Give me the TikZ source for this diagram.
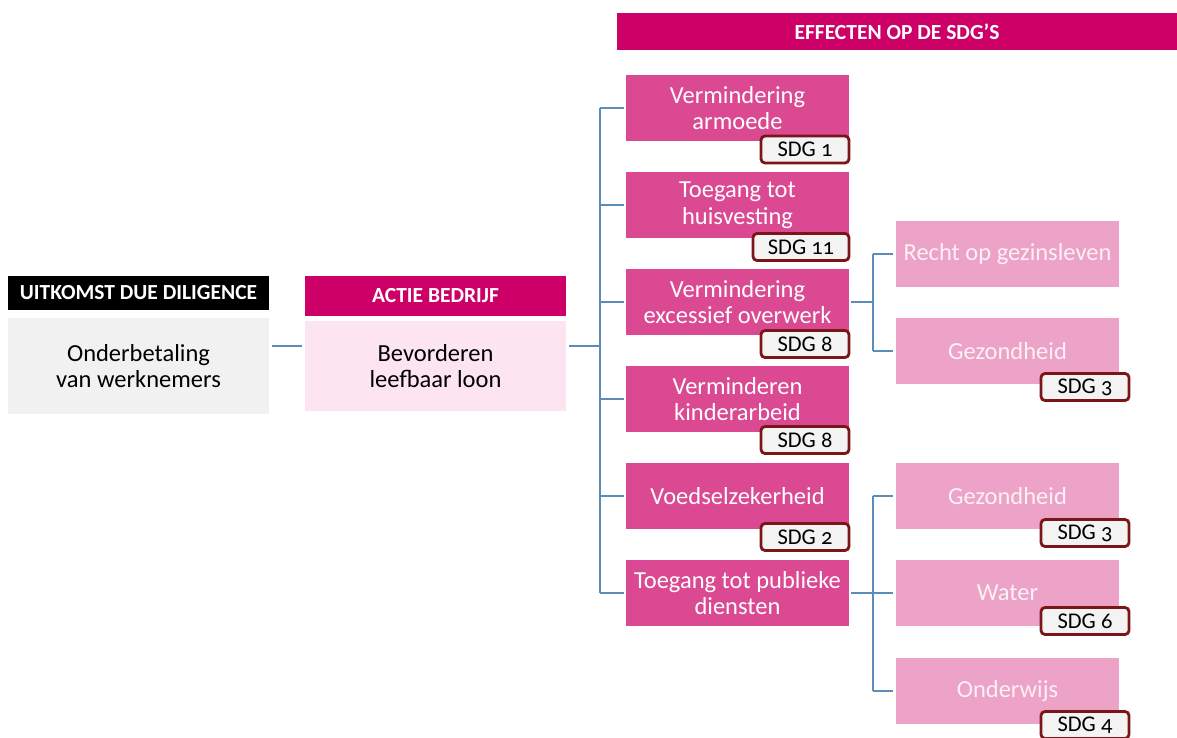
\documentclass[tikz,border=0pt]{standalone}
\usepackage{fontspec}
\setmainfont{Carlito}
\newfontfamily\badgefont[Numbers=OldStyle]{Carlito}
\definecolor{hdrmag}{HTML}{CC0066}
\definecolor{midpink}{HTML}{DA4991}
\definecolor{lightpink}{HTML}{ECA3C7}
\definecolor{palepink}{HTML}{FCE4F0}
\definecolor{greyfill}{HTML}{F1F1F1}
\definecolor{badgered}{HTML}{7A1618}
\definecolor{badgefill}{HTML}{F3F3F3}
\definecolor{linkblue}{HTML}{5B8DB8}
\definecolor{subtext}{HTML}{FDF0F6}
\begin{document}
\begin{tikzpicture}[x=1pt,y=-1pt,
  hdr/.style={rectangle, inner sep=0pt, text=white, font=\bfseries\fontsize{21.5}{24}\selectfont},
  box/.style={rectangle, inner sep=0pt, minimum width=223pt, minimum height=66pt, align=center, font=\fontsize{24.5}{26.5}\selectfont},
  midbox/.style={box, fill=midpink, text=white},
  subbox/.style={box, fill=lightpink, text=subtext},
  badge/.style={rectangle, rounded corners=4pt, draw=badgered, line width=2.8pt, fill=badgefill, minimum width=88pt, minimum height=27pt, inner sep=0pt, text=black, font=\badgefont\fontsize{22.5}{24}\selectfont},
  link/.style={draw=linkblue, line width=2.4pt}]
\useasboundingbox (0,0) rectangle (1177,738);

% left column
\node[hdr, fill=black, minimum width=261pt, minimum height=34pt] (h1) at (138.5,293) {UITKOMST DUE DILIGENCE};
\node[box, fill=greyfill, text=black, minimum width=261pt, minimum height=96pt] (grey) at (138.5,366) {Onderbetaling\\van werknemers};

% action column
\node[hdr, fill=hdrmag, minimum width=261pt, minimum height=40pt] (h2) at (435.5,296) {ACTIE BEDRIJF};
\node[box, fill=palepink, text=black, minimum width=261pt, minimum height=90pt] (pink) at (435.5,366) {Bevorderen\\leefbaar loon};

% effects header
\node[hdr, fill=hdrmag, minimum width=560pt, minimum height=37pt] (h3) at (897,31.5) {EFFECTEN OP DE SDG’S};

% middle boxes
\node[midbox] (m1) at (737.5,108) {Vermindering\\armoede};
\node[midbox] (m2) at (737.5,205) {Toegang tot\\huisvesting};
\node[midbox] (m3) at (737.5,302) {Vermindering\\excessief overwerk};
\node[midbox] (m4) at (737.5,399) {Verminderen\\kinderarbeid};
\node[midbox] (m5) at (737.5,496) {Voedselzekerheid};
\node[midbox] (m6) at (737.5,593) {Toegang tot publieke\\diensten};

% right boxes
\node[subbox] (r1) at (1007.5,254) {Recht op gezinsleven};
\node[subbox] (r2) at (1007.5,351) {Gezondheid};
\node[subbox] (r3) at (1007.5,496) {Gezondheid};
\node[subbox] (r4) at (1007.5,593) {Water};
\node[subbox] (r5) at (1007.5,691) {Onderwijs};

% badges
\node[badge] (b1) at (805,149.5) {SDG 1};
\node[badge, minimum width=96pt] (b2) at (801,247) {SDG 11};
\node[badge] (b3) at (805,344) {SDG 8};
\node[badge] (b4) at (805,440) {SDG 8};
\node[badge] (b5) at (805,537) {SDG 2};
\node[badge] (b6) at (1085,387) {SDG 3};
\node[badge] (b7) at (1085,533) {SDG 3};
\node[badge] (b8) at (1085,621) {SDG 6};
\node[badge] (b9) at (1085,725) {SDG 4};

% connectors
\coordinate (tr) at (600,0);
\coordinate (tr2) at (873,0);
\draw[link, shorten <=3pt, shorten >=3pt] ([yshift=20pt]grey.east) -- ([yshift=20pt]pink.west);
\draw[link, shorten <=3pt] ([yshift=20pt]pink.east) -- ([yshift=20pt]pink.east -| tr);
\draw[link] (m1.west -| tr) -- (m6.west -| tr);
\foreach \m in {m1,m2,m3,m4,m5,m6}
  \draw[link, shorten >=2pt] (\m.west -| tr) -- (\m.west);
\draw[link, shorten <=2pt] (m3.east) -- (m3.east -| tr2);
\draw[link] (r1.west -| tr2) -- (r2.west -| tr2);
\foreach \r in {r1,r2}
  \draw[link, shorten >=3pt] (\r.west -| tr2) -- (\r.west);
\draw[link, shorten <=2pt] (m6.east) -- (m6.east -| tr2);
\draw[link] (r3.west -| tr2) -- (r5.west -| tr2);
\foreach \r in {r3,r4,r5}
  \draw[link, shorten >=3pt] (\r.west -| tr2) -- (\r.west);
\end{tikzpicture}
\end{document}
